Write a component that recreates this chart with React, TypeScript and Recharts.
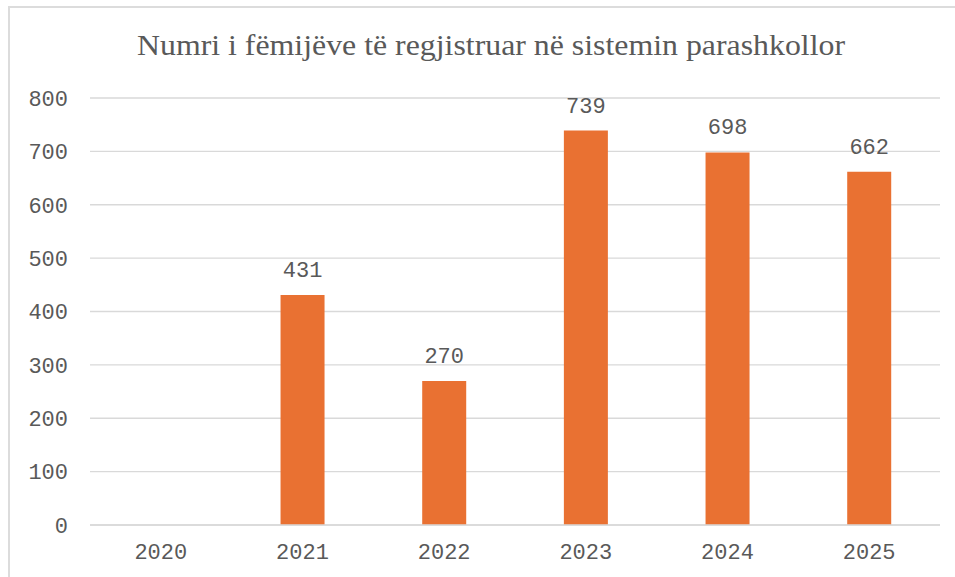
import { BarChart, Bar, CartesianGrid, XAxis, YAxis, LabelList } from "recharts";

const years = ["2020", "2021", "2022", "2023", "2024", "2025"];
const children: (number | null)[] = [null, 431, 270, 739, 698, 662];
const yTicks = [0, 100, 200, 300, 400, 500, 600, 700, 800];
const title = "Numri i fëmijëve të regjistruar në sistemin parashkollor";

const data = years.map((year, i) => ({ year, value: children[i] }));

const mono = "'Liberation Mono', 'Courier New', monospace";
const tickStyle = { fontSize: 22, fill: "#595959", fontFamily: mono };

export default function App() {
  return (
    <div style={{ position: "fixed", left: 0, top: 0, width: 955, height: 577, background: "#fff" }}>
      <div
        style={{
          position: "absolute",
          left: 8,
          top: 6,
          right: 0,
          bottom: 0,
          borderLeft: "2px solid #dcdcdc",
          borderTop: "2px solid #dcdcdc",
        }}
      />
      <svg width={955} height={577} style={{ position: "absolute", left: 0, top: 0 }}>
        <text
          x={137}
          y={55}
          fontSize={30}
          fill="#595959"
          fontFamily="'Liberation Serif', 'Times New Roman', serif"
          textLength={708}
          lengthAdjust="spacingAndGlyphs"
        >
          {title}
        </text>
      </svg>
      <div style={{ position: "absolute", left: 0, top: 0 }}>
        <BarChart
          width={955}
          height={577}
          data={data}
          margin={{ top: 98, right: 15, left: 0, bottom: 0 }}
          barCategoryGap="34.5%"
        >
          <CartesianGrid stroke="#d9d9d9" strokeWidth={1.3} vertical={false} />
          <XAxis
            dataKey="year"
            height={52}
            tick={tickStyle}
            tickSize={0}
            tickMargin={18}
            axisLine={{ stroke: "#d9d9d9", strokeWidth: 1.3 }}
            tickLine={false}
          />
          <YAxis
            width={90}
            domain={[0, 800]}
            ticks={yTicks}
            interval={0}
            tick={tickStyle}
            tickSize={0}
            tickMargin={22}
            axisLine={false}
            tickLine={false}
          />
          <Bar dataKey="value" fill="#E97132" isAnimationActive={false}>
            <LabelList dataKey="value" position="top" offset={18} style={tickStyle} />
          </Bar>
        </BarChart>
      </div>
    </div>
  );
}
